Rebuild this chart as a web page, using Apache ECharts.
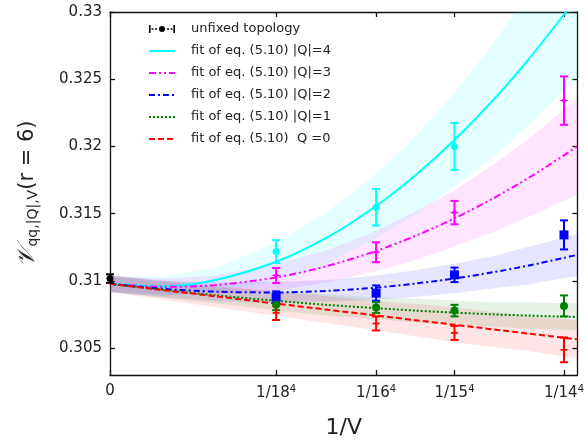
<!DOCTYPE html>
<html>
<head>
<meta charset="utf-8">
<script src="https://cdn.jsdelivr.net/npm/echarts@6/dist/echarts.min.js"></script>
<style>
  html, body { margin: 0; padding: 0; background: #fff; }
  #chart { width: 587px; height: 445px; }
</style>
</head>
<body>
<div id="chart"></div>
<script>
// Lattice extents L, plotted at 1/V = 1/L^4
const latticeL = [18, 16, 15, 14];
const invV = latticeL.map(L => 1 / Math.pow(L, 4));
const xTickValues = [0].concat(invV);
const xTickLabels = ['0', '1/18{s|4}', '1/16{s|4}', '1/15{s|4}', '1/14{s|4}'];
const yTickValues = [0.305, 0.31, 0.315, 0.32, 0.325, 0.33];

// Unfixed topology (infinite-volume point at 1/V = 0)
const unfixedVal = [0.31017];
const unfixedErr = [0.00032];

// Fixed-topology data at each volume (null = outside the plotted range)
const q4Val = [0.31218, 0.31548, 0.32000, null];
const q4Err = [0.00085, 0.00136, 0.00174, null];
const q3Val = [0.31040, 0.31213, 0.31508, 0.32341];
const q3Err = [0.00056, 0.00074, 0.00087, 0.00180];
const q2Val = [0.30879, 0.30909, 0.31045, 0.31342];
const q2Err = [0.00043, 0.00057, 0.00054, 0.00108];
const q1Val = [0.30822, 0.30802, 0.30779, 0.30814];
const q1Err = [0.00040, 0.00040, 0.00043, 0.00078];
const q0Val = [0.30762, 0.30683, 0.30613, 0.30487];
const q0Err = [0.00053, 0.00052, 0.00052, 0.00092];

// Fit curves of eq. (5.10), sampled along 1/V
const fitX = [0, 3.0e-6, 6.0e-6, 9.53e-6, 12.5e-6, 15.26e-6, 17.5e-6, 19.75e-6, 22.0e-6, 24.0e-6, 26.03e-6, 26.8e-6];
const fitQ4 = [0.30978, 0.30959, 0.31005, 0.31142, 0.31327, 0.31557, 0.31784, 0.32048, 0.32349, 0.32648, 0.32981, 0.33114];
const fitQ3 = [0.30978, 0.30956, 0.30968, 0.31026, 0.31112, 0.31223, 0.31334, 0.31465, 0.31616, 0.31766, 0.31934, 0.32002];
const fitQ2 = [0.30978, 0.30941, 0.30920, 0.30914, 0.30926, 0.30950, 0.30980, 0.31018, 0.31065, 0.31114, 0.31171, 0.31194];
const fitQ1 = [0.30978, 0.30934, 0.30894, 0.30852, 0.30821, 0.30797, 0.30779, 0.30764, 0.30751, 0.30742, 0.30734, 0.30732];
const fitQ0 = [0.30978, 0.30932, 0.30886, 0.30831, 0.30785, 0.30743, 0.30708, 0.30674, 0.30639, 0.30608, 0.30577, 0.30565];

// Half-widths of the fit uncertainty bands at fitX
const bandQ4 = [0.0006, 0.0007, 0.0009, 0.0014, 0.0019, 0.0024, 0.0029, 0.0035, 0.0042, 0.0049, 0.0057, 0.0060];
const bandQ3 = [0.0006, 0.0006, 0.0007, 0.0010, 0.0012, 0.0015, 0.0018, 0.0021, 0.0025, 0.0029, 0.0034, 0.0036];
const bandQ2 = [0.0006, 0.0006, 0.0007, 0.0008, 0.0008, 0.0009, 0.0010, 0.0011, 0.0012, 0.0014, 0.0015, 0.0016];
const bandQ1 = [0.0006, 0.0006, 0.0006, 0.0007, 0.0008, 0.0008, 0.0009, 0.0009, 0.0009, 0.0010, 0.0010, 0.0010];
const bandQ0 = [0.0006, 0.0007, 0.0008, 0.0009, 0.0010, 0.0011, 0.0012, 0.0013, 0.0013, 0.0013, 0.0014, 0.0014];

const FONT = 'DejaVu Sans';
const X_MIN = 0, X_MAX = 2.68e-5, Y_MIN = 0.303, Y_MAX = 0.33;

// Legend glyph for an error-bar point: end caps, dotted stem and a dot (26 x 8 box)
const ERRORBAR_ICON = 'path://M0,0H1.6V8H0Z M24.4,0H26V8H24.4Z ' +
  'M2.5,3.3H4.5V4.7H2.5Z M6,3.3H8V4.7H6Z M18,3.3H20V4.7H18Z M21.5,3.3H23.5V4.7H21.5Z ' +
  'M10,4A3,3 0 1,0 16,4A3,3 0 1,0 10,4Z';

const sectors = [
  { name: 'fit of eq. (5.10) |Q|=4', color: '#00ffff', band: 'rgba(0,255,255,0.11)', fit: fitQ4, hw: bandQ4,
    val: q4Val, err: q4Err, dash: 'solid', symbol: 'circle', size: 7 },
  { name: 'fit of eq. (5.10) |Q|=3', color: '#ff00ff', band: 'rgba(255,0,255,0.1)', fit: fitQ3, hw: bandQ3,
    val: q3Val, err: q3Err, dash: [7, 3, 2, 3, 2, 3],
    symbol: 'path://M0,-1L0.28,-0.28L1,0L0.28,0.28L0,1L-0.28,0.28L-1,0L-0.28,-0.28Z', size: 9 },
  { name: 'fit of eq. (5.10) |Q|=2', color: '#0000ff', band: 'rgba(0,0,255,0.1)', fit: fitQ2, hw: bandQ2,
    val: q2Val, err: q2Err, dash: [6, 3, 2, 3], symbol: 'rect', size: 9 },
  { name: 'fit of eq. (5.10) |Q|=1', color: '#008000', band: 'rgba(0,128,0,0.1)', fit: fitQ1, hw: bandQ1,
    val: q1Val, err: q1Err, dash: [2, 2], symbol: 'circle', size: 8 },
  { name: 'fit of eq. (5.10)  Q =0', color: '#ff0000', band: 'rgba(255,0,0,0.1)', fit: fitQ0, hw: bandQ0,
    val: q0Val, err: q0Err, dash: [6, 3], symbol: 'path://M-1,-0.25H1V0.25H-1Z', size: 7 }
];

function bandSeries(s) {
  return {
    type: 'custom',
    name: 'band ' + s.name,
    silent: true,
    clip: true,
    z: 1,
    data: [[0, fitX.length]],
    renderItem: function (params, api) {
      const upper = fitX.map((x, i) => api.coord([x, s.fit[i] + s.hw[i]]));
      const lower = fitX.map((x, i) => api.coord([x, s.fit[i] - s.hw[i]])).reverse();
      return { type: 'polygon', shape: { points: upper.concat(lower) }, style: { fill: s.band } };
    }
  };
}

function errorBarSeries(id, color, xs, vals, errs) {
  const data = [];
  xs.forEach((x, i) => { if (vals[i] != null) data.push([x, vals[i], errs[i]]); });
  return {
    type: 'custom',
    name: 'err ' + id,
    silent: true,
    clip: false,
    z: 4,
    encode: { x: 0, y: 1 },
    data: data,
    renderItem: function (params, api) {
      const x = api.value(0), y = api.value(1), e = api.value(2);
      const hi = api.coord([x, y + e]);
      const lo = api.coord([x, y - e]);
      const w = 4;
      const st = { stroke: color, lineWidth: 2 };
      return {
        type: 'group',
        children: [
          { type: 'line', shape: { x1: hi[0], y1: hi[1], x2: lo[0], y2: lo[1] }, style: st },
          { type: 'line', shape: { x1: hi[0] - w, y1: hi[1], x2: hi[0] + w, y2: hi[1] }, style: st },
          { type: 'line', shape: { x1: lo[0] - w, y1: lo[1], x2: lo[0] + w, y2: lo[1] }, style: st }
        ]
      };
    }
  };
}

function markerSeries(s) {
  const data = [];
  invV.forEach((x, i) => { if (s.val[i] != null) data.push([x, s.val[i]]); });
  return {
    type: 'scatter',
    name: 'pts ' + s.name,
    silent: true,
    z: 5,
    symbol: s.symbol,
    symbolSize: s.size,
    symbolKeepAspect: true,
    itemStyle: { color: s.color, opacity: 1 },
    data: data
  };
}

function fitSeries(s) {
  return {
    type: 'line',
    name: s.name,
    silent: true,
    z: 3,
    smooth: 0.3,
    symbol: 'none',
    color: s.color,
    lineStyle: { color: s.color, width: 2, type: s.dash },
    data: fitX.map((x, i) => [x, s.fit[i]])
  };
}

const series = [];
sectors.forEach(s => series.push(bandSeries(s)));
series.push({
  type: 'line',
  name: 'unfixed topology',
  silent: true,
  z: 6,
  symbol: 'circle',
  symbolSize: 7,
  color: '#000',
  itemStyle: { color: '#000' },
  lineStyle: { color: '#000', width: 1.5, type: [2, 2] },
  clip: false,
  data: [[0, unfixedVal[0]]]
});
sectors.forEach(s => series.push(fitSeries(s)));
series.push(errorBarSeries('unfixed', '#000', [0], unfixedVal, unfixedErr));
sectors.forEach(s => {
  series.push(errorBarSeries(s.name, s.color, invV, s.val, s.err));
  series.push(markerSeries(s));
});

const axisLineStyle = { color: '#111', width: 1.3 };

const legendItems = [{ name: 'unfixed topology', icon: ERRORBAR_ICON, itemStyle: { opacity: 1, color: '#000' } }]
  .concat(sectors.map(s => ({ name: s.name, itemStyle: { opacity: 0 } })));

const option = {
  animation: false,
  backgroundColor: '#fff',
  textStyle: { fontFamily: FONT },
  grid: { left: 110, right: 9, top: 12, bottom: 70 },
  legend: {
    data: legendItems,
    orient: 'vertical',
    left: 148,
    top: 22,
    padding: 0,
    itemWidth: 26,
    itemHeight: 8,
    itemGap: 8,
    selectedMode: false,
    textStyle: { fontFamily: FONT, fontSize: 13, color: '#222', padding: [0, 0, 0, 11], lineHeight: 14 }
  },
  xAxis: [
    {
      type: 'value', min: X_MIN, max: X_MAX,
      name: '1/V', nameLocation: 'middle', nameGap: 42,
      nameTextStyle: { fontFamily: FONT, fontSize: 22, color: '#222' },
      axisLine: { show: true, onZero: false, lineStyle: axisLineStyle },
      axisTick: { show: true, inside: true, length: 5, customValues: xTickValues, lineStyle: axisLineStyle },
      axisLabel: {
        customValues: xTickValues,
        margin: 9,
        fontFamily: FONT, fontSize: 15, color: '#222',
        formatter: function (v) {
          const i = xTickValues.findIndex(t => Math.abs(t - v) < 1e-9);
          return i >= 0 ? xTickLabels[i] : '';
        },
        rich: { s: { fontSize: 10, verticalAlign: 'top', padding: [0, 0, 8, 0], fontFamily: FONT, color: '#222' } }
      },
      splitLine: { show: false }
    },
    {
      type: 'value', min: X_MIN, max: X_MAX, position: 'top',
      axisLine: { show: true, onZero: false, lineStyle: axisLineStyle },
      axisTick: { show: true, inside: true, length: 5, customValues: xTickValues, lineStyle: axisLineStyle },
      axisLabel: { show: false },
      splitLine: { show: false }
    }
  ],
  yAxis: [
    {
      type: 'value', min: Y_MIN, max: Y_MAX,
      name: '{v|𝒱}{sub|qq,|Q|,V}{n|(r = 6)}',
      nameLocation: 'middle', nameGap: 70,
      nameTextStyle: {
        fontFamily: FONT, color: '#222',
        rich: {
          v: { fontSize: 24, fontFamily: 'DejaVu Serif', fontStyle: 'italic', color: '#222' },
          sub: { fontSize: 14, fontFamily: FONT, color: '#222', verticalAlign: 'bottom', padding: [10, 0, 0, 0] },
          n: { fontSize: 21, fontFamily: FONT, color: '#222' }
        }
      },
      axisLine: { show: true, onZero: false, lineStyle: axisLineStyle },
      axisTick: { show: true, inside: true, length: 5, customValues: yTickValues, lineStyle: axisLineStyle },
      axisLabel: {
        customValues: yTickValues, margin: 8,
        fontFamily: FONT, fontSize: 15, color: '#222',
        formatter: v => String(Math.round(v * 1000) / 1000)
      },
      splitLine: { show: false }
    },
    {
      type: 'value', min: Y_MIN, max: Y_MAX, position: 'right',
      axisLine: { show: true, onZero: false, lineStyle: axisLineStyle },
      axisTick: { show: true, inside: true, length: 5, customValues: yTickValues, lineStyle: axisLineStyle },
      axisLabel: { show: false },
      splitLine: { show: false }
    }
  ],
  series: series
};

const chart = echarts.init(document.getElementById('chart'), null, { renderer: 'canvas' });
chart.setOption(option);
</script>
</body>
</html>
